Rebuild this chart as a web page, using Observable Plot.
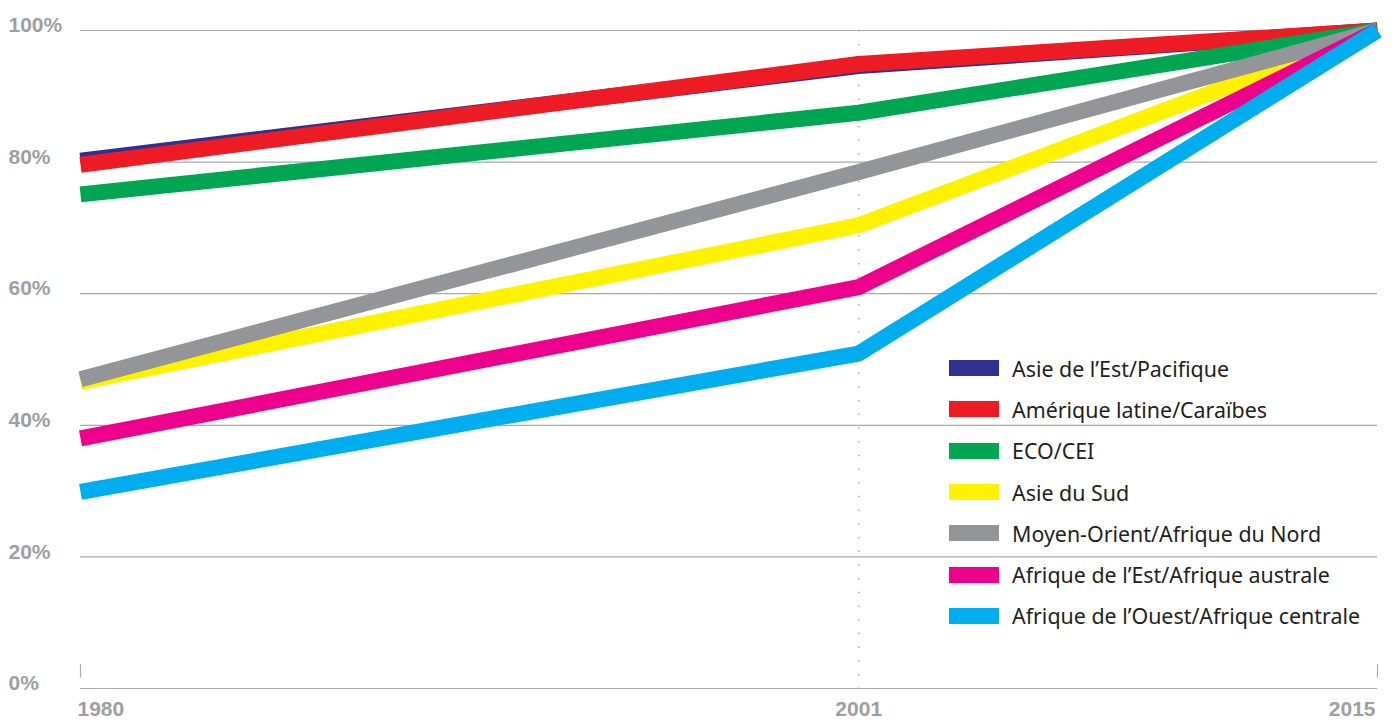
<!DOCTYPE html>
<html>
<head>
<meta charset="utf-8">
<script src="https://cdn.jsdelivr.net/npm/d3@7"></script>
<script src="https://cdn.jsdelivr.net/npm/@observablehq/plot@0.6"></script>
<style>
  html, body { margin: 0; padding: 0; background: #fff; }
  #wrap { position: relative; width: 1393px; height: 726px; }
  #legend { position: absolute; left: 949px; top: 347.5px; font-family: "Noto Sans", "Liberation Sans", Arial, sans-serif; font-size: 21.4px; color: #231f20; }
  #legend .row { display: flex; align-items: center; height: 41.3px; }
  #legend .sw { width: 50px; height: 16px; margin-right: 13px; }
</style>
</head>
<body>
<div id="wrap"></div>
<script>
const years = [1980, 2001, 2015];
const regions = [
  "Asie de l’Est/Pacifique",
  "Amérique latine/Caraïbes",
  "ECO/CEI",
  "Asie du Sud",
  "Moyen-Orient/Afrique du Nord",
  "Afrique de l’Est/Afrique australe",
  "Afrique de l’Ouest/Afrique centrale"
];
const colors = ["#2e3192", "#ed1c24", "#00a651", "#fff200", "#939598", "#ec008c", "#00aeef"];
const eastAsia   = [80.2, 94.6, 100];
const latinAm    = [79.6, 94.9, 100];
const ecoCei     = [75.1, 87.5, 100];
const southAsia  = [46.6, 70.4, 100];
const mena       = [47.0, 78.5, 100];
const eastAfrica = [38.0, 61.0, 100];
const westAfrica = [29.9, 50.9, 100];
const yTicks = [0, 20, 40, 60, 80, 100];

const series = [eastAsia, latinAm, ecoCei, southAsia, mena, eastAfrica, westAfrica];
const data = [];
regions.forEach((r, i) => years.forEach((yr, j) => data.push({region: r, year: yr, value: series[i][j]})));

const font = "'Liberation Sans', Arial, sans-serif";
const labelGrey = "#9d9fa2";

const chart = Plot.plot({
  width: 1393,
  height: 726,
  marginLeft: 80,
  marginRight: 16,
  marginTop: 30,
  marginBottom: 38,
  style: {fontFamily: font, background: "#fff"},
  x: {domain: [1980, 2015], axis: null},
  y: {domain: [0, 100], axis: null},
  color: {domain: regions, range: colors},
  marks: [
    Plot.ruleY(yTicks, {stroke: "#a7a9ac", strokeWidth: 1.2}),
    Plot.ruleX([2001], {stroke: "#a7a9ac", strokeWidth: 1.5, strokeDasharray: "1.5,12.2"}),
    Plot.ruleX([1980, 2015], {y1: 1.6, y2: 3.6, stroke: "#a7a9ac", strokeWidth: 1.2}),
    Plot.line(data, {x: "year", y: "value", z: "region", stroke: "region", strokeWidth: 16, strokeLinecap: "butt", strokeLinejoin: "miter"}),
    Plot.text(yTicks, {y: d => d, text: d => d + "%", frameAnchor: "left", textAnchor: "start", dx: -72, dy: -5, fill: labelGrey, fontSize: 21, fontWeight: "bold"}),
    Plot.text([1980], {x: d => d, text: d => String(d), frameAnchor: "bottom", textAnchor: "start", dx: -3, dy: 27, fill: labelGrey, fontSize: 21, fontWeight: "bold"}),
    Plot.text([2001], {x: d => d, text: d => String(d), frameAnchor: "bottom", textAnchor: "middle", dy: 27, fill: labelGrey, fontSize: 21, fontWeight: "bold"}),
    Plot.text([2015], {x: d => d, text: d => String(d), frameAnchor: "bottom", textAnchor: "end", dx: -2, dy: 27, fill: labelGrey, fontSize: 21, fontWeight: "bold"})
  ]
});

const wrap = document.getElementById("wrap");
wrap.appendChild(chart);
const legend = document.createElement("div");
legend.id = "legend";
regions.forEach((r, i) => {
  const row = document.createElement("div");
  row.className = "row";
  const sw = document.createElement("div");
  sw.className = "sw";
  sw.style.background = colors[i];
  const lab = document.createElement("span");
  lab.textContent = r;
  row.appendChild(sw);
  row.appendChild(lab);
  legend.appendChild(row);
});
wrap.appendChild(legend);
</script>
</body>
</html>
